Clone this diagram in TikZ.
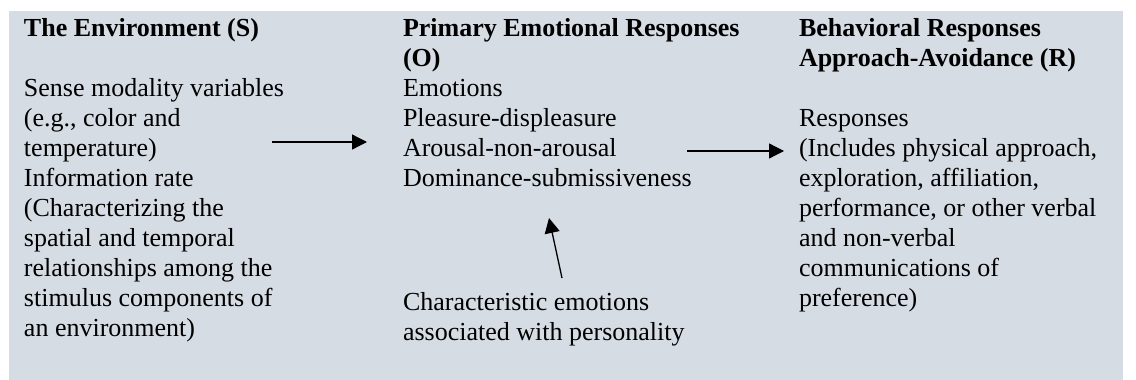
\documentclass[tikz,border=0pt]{standalone}
\usepackage{fontspec}
\setmainfont{Liberation Serif}
\usetikzlibrary{arrows.meta}
\definecolor{bgc}{HTML}{D6DCE4}
\begin{document}
\begin{tikzpicture}[x=0.5pt,y=-0.5pt,
  col/.style={anchor=base west, inner sep=0pt, outer sep=0pt},
  arr/.style={line width=0.65pt, -{Triangle[length=7.5pt,width=7.5pt]}}]
\useasboundingbox (0,0) rectangle (1136,380);
\fill[bgc] (9,11) rectangle (1123,380);
\newcommand{\colfont}{\fontsize{13pt}{15pt}\selectfont}
\node[col] (env) at (24,36) {\parbox[t]{180pt}{\colfont\raggedright
\textbf{The Environment (S)}\\
~\\
Sense modality variables\\
(e.g., color and\\
temperature)\\
Information rate\\
(Characterizing the\\
spatial and temporal\\
relationships among the\\
stimulus components of\\
an environment)}};
\node[col] (emo) at (403,36) {\parbox[t]{200pt}{\colfont\raggedright
\textbf{Primary Emotional Responses}\\
\textbf{(O)}\\
Emotions\\
Pleasure-displeasure\\
Arousal-non-arousal\\
Dominance-submissiveness}};
\node[col] (pers) at (403,310) {\parbox[t]{200pt}{\colfont\raggedright
Characteristic emotions\\
associated with personality}};
\node[col] (beh) at (799,36) {\parbox[t]{170pt}{\colfont\raggedright
\textbf{Behavioral Responses}\\
\textbf{Approach-Avoidance (R)}\\
~\\
Responses\\
(Includes physical approach,\\
exploration, affiliation,\\
performance, or other verbal\\
and non-verbal\\
communications of\\
preference)}};
\coordinate (a1s) at (272,142);
\coordinate (a1e) at (367,142);
\coordinate (a2s) at (687,151);
\coordinate (a2e) at (784,151);
\coordinate (a3s) at (562,278);
\coordinate (a3e) at (549,218);
\draw[arr] (a1s) -- (a1e);
\draw[arr] (a2s) -- (a2e);
\draw[arr] (a3s) -- (a3e);
\end{tikzpicture}
\end{document}
